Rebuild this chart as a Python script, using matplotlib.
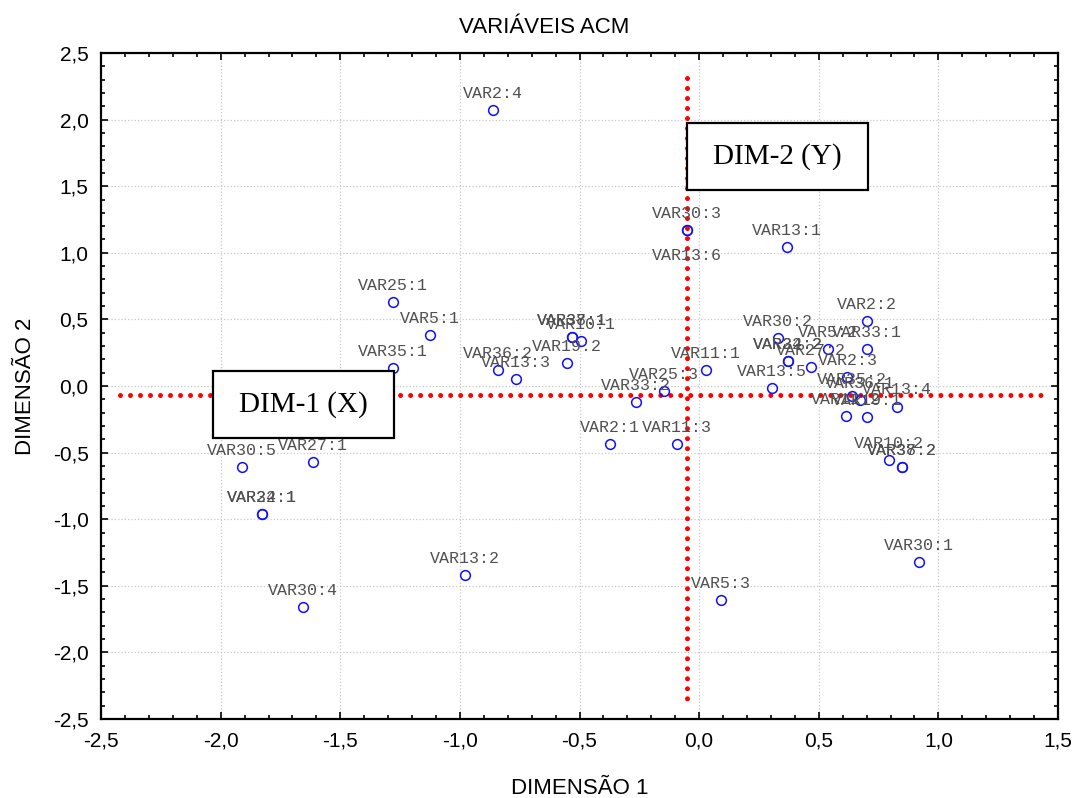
import matplotlib
matplotlib.use('Agg')
from matplotlib import pyplot as plt
from matplotlib.patches import Rectangle
from matplotlib.ticker import MultipleLocator, FuncFormatter

# coordenadas das categorias (dim 1, dim 2)
labels = ['VAR2:4', 'VAR30:3', 'VAR13:6', 'VAR13:1', 'VAR25:1', 'VAR5:1', 'VAR35:1',
          'VAR36:2', 'VAR13:3', 'VAR38:1', 'VAR37:1', 'VAR10:1', 'VAR19:2', 'VAR33:2',
          'VAR25:3', 'VAR11:1', 'VAR2:1', 'VAR11:3', 'VAR30:5', 'VAR27:1', 'VAR22:1',
          'VAR34:1', 'VAR13:2', 'VAR30:4', 'VAR5:3', 'VAR30:1', 'VAR2:2', 'VAR33:1',
          'VAR5:2', 'VAR30:2', 'VAR22:2', 'VAR34:2', 'VAR27:2', 'VAR13:5', 'VAR2:3',
          'VAR35:2', 'VAR36:1', 'VAR13:4', 'VAR19:1', 'VAR11:2', 'VAR10:2', 'VAR38:2',
          'VAR37:2']
dim1 = [-0.862, -0.051, -0.051, 0.366, -1.281, -1.125, -1.281,
        -0.841, -0.766, -0.532, -0.532, -0.495, -0.553, -0.265,
        -0.148, 0.028, -0.373, -0.093, -1.911, -1.614, -1.827,
        -1.827, -0.980, -1.656, 0.091, 0.918, 0.700, 0.700,
        0.537, 0.328, 0.372, 0.372, 0.466, 0.305, 0.620,
        0.639, 0.671, 0.825, 0.700, 0.613, 0.794, 0.846,
        0.846]
dim2 = [2.072, 1.171, 1.171, 1.044, 0.631, 0.383, 0.135,
        0.120, 0.053, 0.368, 0.368, 0.338, 0.173, -0.120,
        -0.038, 0.120, -0.435, -0.435, -0.608, -0.571, -0.961,
        -0.961, -1.419, -1.659, -1.607, -1.321, 0.488, 0.275,
        0.275, 0.358, 0.188, 0.188, 0.145, -0.013, 0.065,
        -0.075, -0.105, -0.155, -0.235, -0.223, -0.556, -0.606,
        -0.606]
below = ['VAR13:6']

# linhas de referencia (eixos da ACM)
ref_x = -0.051
ref_y = -0.068

fig = plt.figure(figsize=(10.77, 7.98), dpi=100)
ax = fig.add_axes([0.0938, 0.099, 0.8886, 0.8346])

ax.plot(dim1, dim2, 'o', ms=7, mfc='none', mec='#1010ff', mew=1.1, zorder=4)
for lab, x, y in zip(labels, dim1, dim2):
    dy = -18 if lab in below else 12
    ax.annotate(lab, (x, y), xytext=(0, dy), textcoords='offset points',
                ha='center', va='center', fontsize=12, family='Liberation Mono',
                color='#505050', zorder=5)

dots = dict(color='red', lw=3.6, linestyle=(0, (0.001, 2.0)),
            dash_capstyle='round', zorder=3)
ax.plot([-2.42, 1.445], [ref_y, ref_y], **dots)
ax.plot([ref_x, ref_x], [2.31, -2.395], **dots)

for x0, y0, txt in [(-0.051, 1.471, 'DIM-2 (Y)'), (-2.032, -0.390, 'DIM-1 (X)')]:
    ax.add_patch(Rectangle((x0, y0), 0.756, 0.503, fc='white', ec='black',
                           lw=1.6, zorder=6))
    ax.text(x0 + 0.378, y0 + 0.2515, txt, ha='center', va='center',
            fontsize=21, family='Liberation Serif', zorder=7)

ax.set_xlim(-2.5, 1.5)
ax.set_ylim(-2.5, 2.5)
ax.xaxis.set_major_locator(MultipleLocator(0.5))
ax.yaxis.set_major_locator(MultipleLocator(0.5))
ax.xaxis.set_minor_locator(MultipleLocator(0.1))
ax.yaxis.set_minor_locator(MultipleLocator(0.1))
fmt = FuncFormatter(lambda v, p: ('%.1f' % v).replace('.', ',').replace('-0,0', '0,0'))
ax.xaxis.set_major_formatter(fmt)
ax.yaxis.set_major_formatter(fmt)
ax.tick_params(which='both', direction='in', top=True, right=True, width=1.2)
ax.tick_params(which='major', length=5, labelsize=15, pad=9)
ax.tick_params(which='minor', length=3)
for lbl in ax.get_xticklabels() + ax.get_yticklabels():
    lbl.set_family('Liberation Sans')
ax.grid(True, which='major', color='#c8c8c8', linestyle=':', lw=0.9)
for s in ax.spines.values():
    s.set_linewidth(1.6)

fig.text(0.505, 0.966, 'VARIÁVEIS ACM', ha='center', va='center',
         fontsize=16, family='Liberation Sans')
ax.set_xlabel('DIMENSÃO 1', fontsize=16, family='Liberation Sans', labelpad=20)
ax.set_ylabel('DIMENSÃO 2', fontsize=16, family='Liberation Sans', labelpad=12)

plt.savefig('out.png', dpi=100)
